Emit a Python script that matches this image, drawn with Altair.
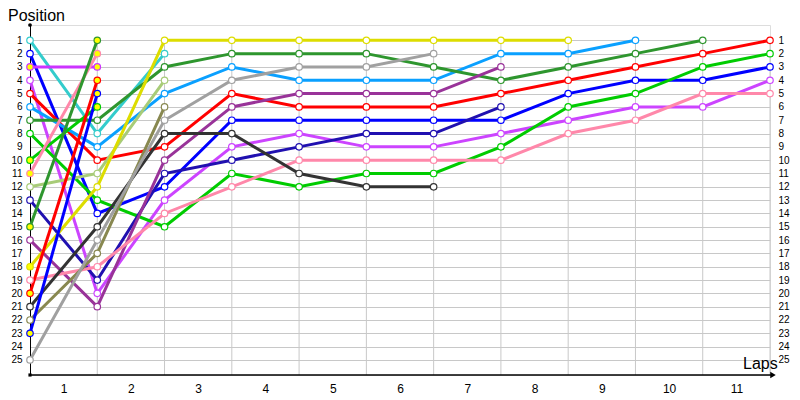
import altair as alt
import pandas as pd

# ---- data (positions per lap, lap 0 = start) ----
drivers = ["Cyan", "Blue", "Violet B", "Violet", "Red", "Light blue", "Dark green",
           "Green", "Green B", "Pink B", "Light olive", "Navy", "Dark green B",
           "Purple", "Yellow", "Pink", "Red B", "Black", "Olive", "Blue B", "Gray"]
colors = ["#33CCCC", "#0000FF", "#CC33FF", "#CC44FF", "#FF0000", "#0AA0FF", "#2E962E",
          "#00CC00", "#00CC00", "#FF88AA", "#A8CC78", "#2010B0", "#2E962E",
          "#993399", "#DDDD00", "#FF88AA", "#FF0000", "#333333", "#888850", "#0000FF", "#A0A0A0"]

cyan = [1, 8, 2]
blue = [2, 14, 12, 7, 7, 7, 7, 7, 5, 4, 4, 3]
violet_b = [3, 3]
violet = [4, 20, 13, 9, 8, 9, 9, 8, 7, 6, 6, 4]
red = [5, 10, 9, 5, 6, 6, 6, 5, 4, 3, 2, 1]
light_blue = [6, 9, 5, 3, 4, 4, 4, 2, 2, 1]
dark_green = [7, 7, 3, 2, 2, 2, 3, 4, 3, 2, 1]
green = [8, 13, 15, 11, 12, 11, 11, 9, 6, 5, 3, 2]
green_b = [10, 6]
pink_b = [11, 2]
light_olive = [12, 11, 4]
navy = [13, 19, 11, 10, 9, 8, 8, 6]
dark_green_b = [15, 1]
purple = [16, 21, 10, 6, 5, 5, 5, 3]
yellow = [18, 12, 1, 1, 1, 1, 1, 1, 1]
pink = [19, 18, 14, 12, 10, 10, 10, 10, 8, 7, 5, 5]
red_b = [20, 4]
black = [21, 15, 8, 8, 11, 12, 12]
olive = [22, 17, 6]
blue_b = [23, 5]
gray = [25, 16, 7, 4, 3, 3, 2]

series = [cyan, blue, violet_b, violet, red, light_blue, dark_green, green, green_b,
          pink_b, light_olive, navy, dark_green_b, purple, yellow, pink, red_b,
          black, olive, blue_b, gray]
# laps whose marker is filled yellow
yellow_laps = [[], [], [0, 1], [], [], [], [], [], [0, 1], [0, 1], [], [], [0, 1],
               [], [0], [], [0, 1], [], [], [0, 1], []]

positions_ticks = list(range(1, 26))
lap_ticks = list(range(1, 12))

rows = []
for name, pos, yl in zip(drivers, series, yellow_laps):
    for lap, p in enumerate(pos):
        rows.append({"driver": name, "lap": lap, "pos": p,
                     "fillc": "#FFFF00" if lap in yl else "#FFFFFF"})
df = pd.DataFrame(rows)

vgrid = pd.DataFrame({"lap": lap_ticks, "y1": [1] * len(lap_ticks), "y2": [26.13] * len(lap_ticks)})
one = pd.DataFrame({"a": [0]})

FONT = "Liberation Sans"
xs = alt.Scale(domain=[0, 11], nice=False, zero=False)
ys = alt.Scale(domain=[-0.15, 26.13], reverse=True, nice=False, zero=False)
cscale = alt.Scale(domain=drivers, range=colors)

x_axis = alt.Axis(values=[v - 0.5 for v in lap_ticks], labelExpr="format(datum.value + 0.5, 'd')",
                  ticks=False, domain=False, grid=False, labelPadding=8, labelFontSize=12,
                  labelFont=FONT, labelColor="#000000", title=None, orient="bottom")
left_axis = alt.Axis(values=positions_ticks, orient="left", ticks=False, domain=True,
                     domainColor="#000000", domainWidth=1, grid=True, gridColor="#C8C8C8",
                     gridWidth=1, labelPadding=8, labelFontSize=10, labelFont=FONT,
                     labelColor="#000000", title=None)
right_axis = alt.Axis(values=positions_ticks, orient="right", ticks=False, domain=False,
                      grid=False, labelPadding=8, labelFontSize=10, labelFont=FONT,
                      labelColor="#000000", title=None)

vrules = alt.Chart(vgrid).mark_rule(color="#C8C8C8", strokeWidth=1).encode(
    x=alt.X("lap:Q", scale=xs, axis=x_axis),
    y=alt.Y("y1:Q", scale=ys, axis=right_axis),
    y2="y2:Q",
)

lines = alt.Chart(df).mark_line(strokeWidth=3).encode(
    x=alt.X("lap:Q", scale=xs, axis=x_axis),
    y=alt.Y("pos:Q", scale=ys, axis=left_axis),
    color=alt.Color("driver:N", scale=cscale, legend=None),
    detail="driver:N",
    order="lap:Q",
)

points = alt.Chart(df).mark_point(shape="circle", size=42, filled=True, strokeWidth=1.2,
                                  opacity=1, fillOpacity=1).encode(
    x=alt.X("lap:Q", scale=xs, axis=x_axis),
    y=alt.Y("pos:Q", scale=ys, axis=None),
    stroke=alt.Stroke("driver:N", scale=cscale, legend=None),
    fill=alt.Fill("fillc:N", scale=None),
)

xline = alt.Chart(one).mark_rule(color="#000000", strokeWidth=1.5).encode(
    x=alt.value(0), x2=alt.value(744), y=alt.value(350))
arrow = alt.Chart(one).mark_point(shape="triangle-right", filled=True, color="#000000",
                                  size=40, opacity=1).encode(x=alt.value(743), y=alt.value(350))
topdot = alt.Chart(one).mark_point(shape="circle", filled=True, color="#000000",
                                   size=14, opacity=1).encode(x=alt.value(0), y=alt.value(0))
botdot = alt.Chart(one).mark_point(shape="square", filled=True, color="#000000",
                                   size=10, opacity=1).encode(x=alt.value(0), y=alt.value(350))
ytitle = alt.Chart(one).mark_text(text="Position", align="left", baseline="alphabetic",
                                  fontSize=16, font=FONT, color="#000000").encode(
    x=alt.value(-22), y=alt.value(-4))
xtitle = alt.Chart(one).mark_text(text="Laps", align="left", baseline="alphabetic",
                                  fontSize=16, font=FONT, color="#000000").encode(
    x=alt.value(713), y=alt.value(344))

chart = alt.layer(vrules, lines, points, xline, arrow, topdot, botdot, ytitle, xtitle).resolve_axis(
    y="independent"
).properties(
    width=740, height=350,
    autosize=alt.AutoSizeParams(type="none"),
    padding={"left": 22, "top": 17, "right": 22, "bottom": 24},
).configure_view(stroke=None).configure(background="#FFFFFF")

chart.save("out.html", embed_options={"renderer": "svg", "actions": False})
